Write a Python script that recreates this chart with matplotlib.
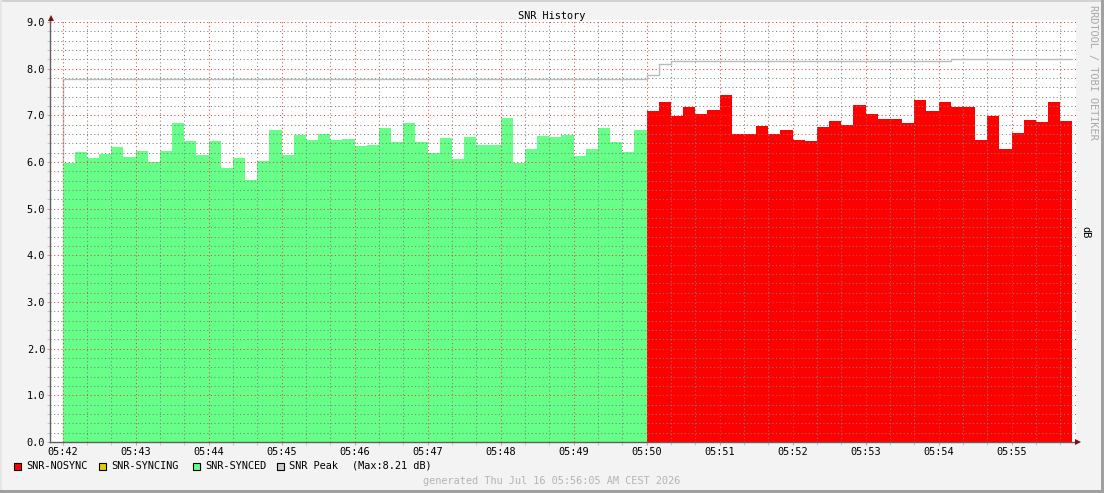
import pandas as pd
import matplotlib
matplotlib.use("Agg")
import matplotlib.pyplot as plt
import matplotlib.dates as mdates
from matplotlib.patches import Rectangle, Polygon

# DATA (10 second steps)
day = "2026-07-16 "
start_synced = "05:42:00"
start_nosync = "05:50:00"
step = "10s"

snr_synced = [5.98, 6.21, 6.09, 6.17, 6.32, 6.11, 6.24, 6.00, 6.24, 6.84,
              6.45, 6.15, 6.45, 5.87, 6.09, 5.61, 6.02, 6.69, 6.15, 6.58,
              6.47, 6.60, 6.47, 6.49, 6.34, 6.36, 6.73, 6.43, 6.84, 6.43,
              6.19, 6.51, 6.06, 6.53, 6.36, 6.36, 6.94, 5.98, 6.28, 6.56,
              6.53, 6.58, 6.13, 6.28, 6.73, 6.43, 6.21, 6.69]
snr_nosync = [7.09, 7.29, 6.99, 7.18, 7.03, 7.11, 7.44, 6.60, 6.60, 6.77,
              6.60, 6.69, 6.47, 6.45, 6.75, 6.88, 6.79, 7.22, 7.03, 6.92,
              6.92, 6.84, 7.33, 7.09, 7.29, 7.18, 7.18, 6.47, 6.99, 6.28,
              6.62, 6.90, 6.86, 7.29, 6.88]

peak_times = ["05:42:00", "05:50:00", "05:50:10", "05:50:20", "05:54:10"]
peak_values = [7.77, 7.86, 8.09, 8.16, 8.21]
end_time = "05:55:50"

legend_labels = ["SNR-NOSYNC", "SNR-SYNCING", "SNR-SYNCED", "SNR Peak"]
legend_colors = ["#ff0000", "#e0d000", "#66ff88", "#cccccc"]
peak_max_text = "(Max:8.21 dB)"
footer = "generated Thu Jul 16 05:56:05 AM CEST 2026"

# LAYOUT
W, H = 1104, 493
FONT = "DejaVu Sans Mono"
FS = 7.4


def px(x, y):
    return x / W, 1 - y / H


def band(x, y, w, h, color):
    # rectangle given in pixels from the top-left corner
    fig.patches.append(Rectangle(px(x, y + h), w / W, h / H, transform=fig.transFigure,
                                 facecolor=color, edgecolor="none"))


fig = plt.figure(figsize=(W / 100, H / 100), dpi=100, facecolor="#f3f3f3")

# frame: light top/left, dark bottom/right
band(0, 0, W, 2, "#d2d2d2")
band(0, 0, 2, H, "#e6e6e6")
band(0, H - 3, W, 3, "#a0a0a0")
band(W - 3, 0, 3, H, "#a0a0a0")

ax = fig.add_axes([50 / W, 51 / H, (1076 - 50) / W, (442 - 19.7) / H])
ax.set_facecolor("white")

t_syn = pd.date_range(day + start_synced, periods=len(snr_synced) + 1, freq=step)
t_nos = pd.date_range(day + start_nosync, periods=len(snr_nosync) + 1, freq=step)
ax.stairs(snr_synced, mdates.date2num(t_syn), fill=True, color="#66ff88", zorder=2)
ax.stairs(snr_nosync, mdates.date2num(t_nos), fill=True, color="#ff0000", zorder=2)

pt = mdates.date2num(pd.to_datetime([day + t for t in peak_times + [end_time]]))
ax.step(pt, peak_values + [peak_values[-1]], where="post", color="#bbbbbb", lw=1, zorder=3)
ax.vlines(pt[0], 0, peak_values[0], color="#bbbbbb", lw=1, zorder=1.5)

ax.set_xlim(mdates.date2num(pd.Timestamp(day + "05:41:49.6")),
            mdates.date2num(pd.Timestamp(day + "05:55:52.9")))
ax.set_ylim(0, 9.05)

ax.xaxis.set_major_locator(mdates.MinuteLocator())
ax.xaxis.set_minor_locator(mdates.SecondLocator(bysecond=[20, 40]))
ax.xaxis.set_major_formatter(mdates.DateFormatter("%H:%M"))
ax.set_yticks([i for i in range(10)])
ax.set_yticks([i / 5 for i in range(46)], minor=True)
ax.yaxis.set_major_formatter(lambda v, p: f"{v:.1f}")

ax.set_axisbelow(False)
ax.grid(which="minor", color=(0.5, 0.5, 0.5, 0.22), linestyle=(0, (1, 2.5)), lw=0.75, zorder=4)
ax.grid(which="major", color=(0.9, 0.25, 0.25, 0.32), linestyle=(0, (1, 2.5)), lw=0.75, zorder=4)

for s in ["top", "right"]:
    ax.spines[s].set_visible(False)
for s in ["left", "bottom"]:
    ax.spines[s].set_color("#606060")
    ax.spines[s].set_linewidth(1)
    ax.spines[s].set_zorder(5)

ax.tick_params(which="both", labelsize=FS, length=2, width=0.8, colors="#e0a0a0",
               labelcolor="black", pad=1.5)
ax.tick_params(which="minor", colors="#cccccc")
for lab in ax.get_xticklabels() + ax.get_yticklabels():
    lab.set_fontfamily(FONT)

# axis arrows
fig.patches.append(Polygon([px(48, 21), px(54, 21), px(51, 15)], closed=True,
                           transform=fig.transFigure, facecolor="#801010", edgecolor="none"))
fig.patches.append(Polygon([px(1075, 439), px(1075, 445), px(1081, 442)], closed=True,
                           transform=fig.transFigure, facecolor="#801010", edgecolor="none"))

# texts
fig.text(*px(552, 16), "SNR History", family=FONT, size=FS, ha="center", va="center")
fig.text(*px(1085, 232), "dB", family=FONT, size=FS, ha="center", va="center", rotation=270)
fig.text(*px(1093, 5), "RRDTOOL / TOBI OETIKER", family=FONT, size=FS, color="#a8a8a8",
         ha="center", va="top", rotation=270)
fig.text(*px(552, 481), footer, family=FONT, size=FS, color="#b4b4b4", ha="center", va="center")

# legend
box_x = [14, 99, 193, 277]
for bx, lab, col in zip(box_x, legend_labels, legend_colors):
    fig.patches.append(Rectangle(px(bx, 470), 7 / W, 7 / H, transform=fig.transFigure,
                                 facecolor=col, edgecolor="black", linewidth=0.8))
    fig.text(*px(bx + 12, 466), lab, family=FONT, size=FS, ha="left", va="center")
fig.text(*px(352, 466), peak_max_text, family=FONT, size=FS, ha="left", va="center")

fig.savefig("out.png", dpi=100, facecolor=fig.get_facecolor())
